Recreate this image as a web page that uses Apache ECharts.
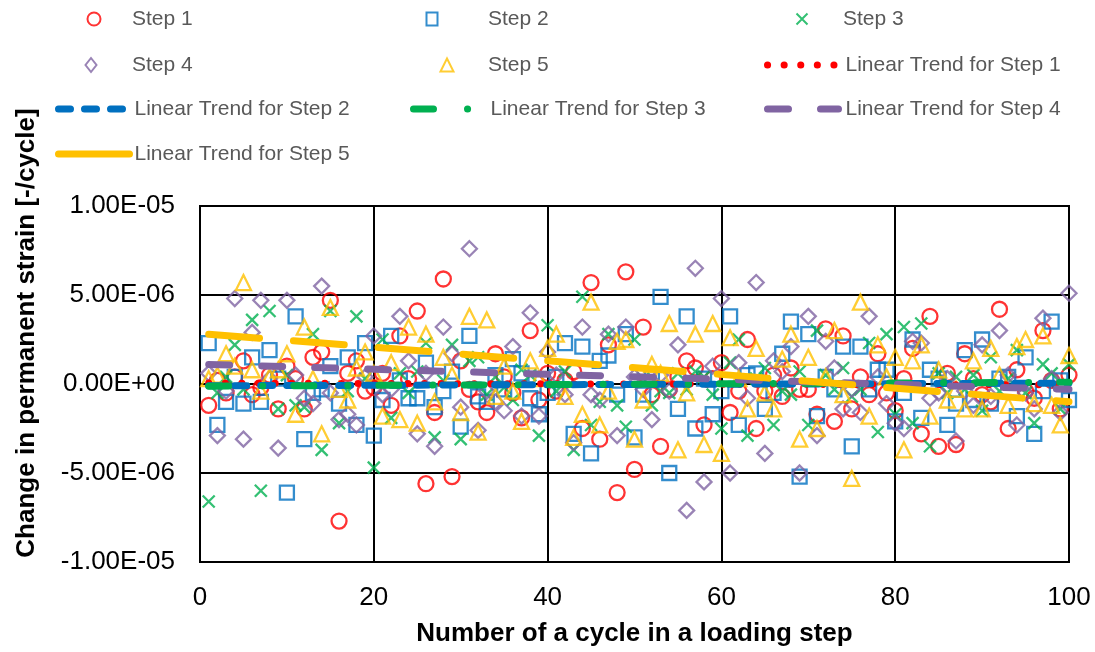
<!DOCTYPE html>
<html>
<head>
<meta charset="utf-8">
<script src="https://cdn.jsdelivr.net/npm/echarts@6/dist/echarts.min.js"></script>
<style>
  html, body { margin: 0; padding: 0; background: #fff; }
  #chart { width: 1095px; height: 652px; }
</style>
</head>
<body>
<div id="chart"></div>
<script>
// Cycle numbers 1..100 within each loading step
const cycles = Array.from({ length: 100 }, (_, i) => i + 1);

// Change in permanent strain per cycle, in units of 1E-06
const step1 = [
  -1.2, 0.2, -0.5, 0.4, 1.3, -0.6, -0.2, 0.5, -1.4, 1.0,
  0.3, -1.4, 1.5, 1.8, 4.7, -7.7, 0.6, 1.3, -0.4, -0.2,
  0.6, -1.2, 2.7, 0.3, 4.1, -5.6, -1.6, 5.9, -5.2, 1.3,
  -0.3, -1.0, -1.6, 1.7, 0.4, -0.5, -1.9, 3.0, -0.9, 0.6,
  -0.4, 0.2, 0.7, -2.5, 5.7, -3.1, 2.2, -6.1, 6.3, -4.8,
  3.2, -0.6, -3.5, -0.3, 0.4, 1.3, 0.9, -2.3, 0.3, 1.2,
  -1.6, -0.4, 2.5, -2.5, -0.4, 0.5, -0.7, 0.9, -0.3, -0.3,
  -1.7, 3.1, -2.1, 2.7, -1.4, 0.4, -0.6, 1.7, -0.5, -1.5,
  0.3, 2.0, -2.8, 3.8, -3.5, 0.6, -3.4, 1.7, 0.3, -0.6,
  -1.0, 4.2, -2.5, 0.8, -0.4, -0.8, 3.0, 0.2, -1.4, 0.5
];
const step2 = [
  2.3, -2.3, -1.0, 0.4, -1.1, 1.5, -1.0, 1.9, 0.3, -6.1,
  3.8, -3.1, -0.5, -0.3, 1.0, -1.1, 1.5, -2.3, 2.3, -2.9,
  -0.9, 2.7, 0.2, -0.8, -0.8, 1.2, -1.3, -0.4, 0.7, -2.4,
  2.7, -0.7, -1.0, 0.5, -0.3, 1.4, 0.6, -0.8, -1.7, -0.5,
  0.4, 2.3, -2.8, 2.1, -3.9, 1.3, 1.6, -0.6, 2.8, -3.0,
  -0.6, 0.5, 4.9, -5.0, -1.4, 3.8, -2.5, 0.3, -1.7, -0.4,
  3.8, -2.3, 0.5, 0.6, -1.4, -0.5, 1.7, 3.5, -5.2, 2.8,
  -1.8, 0.4, -0.3, 2.1, -3.5, 2.1, -0.3, 0.8, 0.8, -2.1,
  -0.5, 2.5, -1.9, 0.8, 0.3, -2.3, -1.1, 1.9, -0.9, 2.5,
  -1.1, 0.3, 0.4, -1.8, 1.5, -2.8, -0.4, 3.5, 0.2, -0.9
];
const step3 = [
  -6.6, -0.5, 0.4, 2.2, -0.3, 3.6, -6.0, 4.1, -1.4, 0.5,
  -1.2, -1.3, 2.8, -3.7, 4.1, -2.2, -0.4, 3.8, 0.3, -4.7,
  2.5, -1.9, 0.6, -0.5, 0.7, 2.3, -3.0, 0.2, 2.2, -3.1,
  1.3, 1.5, -0.6, 0.4, -0.2, -0.9, 0.8, 0.5, -2.9, 3.3,
  -0.4, 0.7, -3.7, 4.9, -2.3, -1.0, 2.8, -1.2, -2.4, 2.5,
  0.3, -1.2, -0.4, -0.5, 0.6, -0.3, 0.7, 0.4, -0.6, -2.5,
  1.2, 2.5, -2.9, 0.3, 0.9, -2.3, -0.4, -0.6, 0.7, -2.3,
  3.0, 0.5, -0.3, 0.9, -0.7, -0.3, 2.3, -2.7, 2.8, -1.7,
  3.2, -2.2, 3.4, -3.5, 0.6, -0.5, 0.4, -0.3, 0.5, -1.5,
  1.5, -0.4, 0.3, 1.9, -0.5, -2.2, 1.1, 0.6, -1.4, 1.1
];
const step4 = [
  0.6, -2.9, -0.4, 4.8, -3.1, 2.9, 4.7, 0.3, -3.6, 4.7,
  0.5, -0.8, -1.1, 5.5, -0.5, -2.0, -1.7, -2.3, 0.4, 2.7,
  -0.6, -0.3, 3.8, 1.3, -2.8, 0.6, -3.5, 3.2, 1.7, -1.3,
  7.6, -2.6, -0.4, -1.0, -1.5, 2.1, -1.8, 4.0, -1.8, 1.8,
  0.5, -0.6, -3.3, 3.2, -0.6, -0.9, 2.8, -2.9, 3.2, 0.4,
  -0.3, -2.0, 0.5, -0.4, 2.2, -7.1, 6.5, -5.5, 1.0, 4.8,
  -5.0, 1.2, -0.8, 5.7, -3.9, 1.3, 0.7, 2.1, -5.0, 3.8,
  -2.9, 2.4, 0.9, -1.4, -0.3, -1.6, 3.8, 0.4, -1.1, -2.2,
  -2.5, 2.4, 2.3, -0.8, -0.5, 0.3, -3.2, -0.4, -1.2, 2.2,
  -0.7, 3.0, 0.5, -2.3, -0.5, -1.4, 3.7, 0.3, -1.6, 5.1
];
const step5 = [
  0.3, 0.5, 1.7, 1.0, 5.7, 0.8, -0.4, 0.4, 0.8, 1.7,
  -1.7, 3.2, 0.3, -2.8, 4.3, -0.3, -0.9, 0.9, 1.8, 0.6,
  -1.8, 1.2, -2.0, 3.2, -2.2, 2.8, -1.0, 1.5, 0.5, -1.6,
  3.8, -2.7, 3.6, -0.7, 1.0, -0.4, -2.1, 1.3, 0.3, 2.0,
  2.8, -0.7, -3.0, -1.7, 4.6, -2.3, -0.4, 2.4, 2.5, -3.1,
  -0.9, 1.1, 0.6, 3.4, -3.7, -0.5, 2.8, -3.4, 3.4, -3.9,
  2.6, 0.3, -1.4, 2.0, -0.5, -1.4, 1.4, 2.8, -3.1, 1.5,
  -2.5, 0.4, 3.0, -0.6, -5.3, 4.6, -1.8, 2.2, 0.4, 1.5,
  -3.7, 1.3, 2.2, -1.8, 0.8, -0.9, -0.3, -1.4, 1.3, -1.4,
  2.0, 0.5, -1.2, 2.1, 2.5, -1.1, 2.7, -1.2, -2.3, 1.6
];

// Linear trend of each step: value (1E-06) at the first and the last cycle
const trendStart = [0.05, -0.1, -0.12, 1.1, 2.8];
const trendEnd = [-0.05, 0.05, 0.1, -0.3, -1.0];

// Axis ticks
const yTicks = { min: -10, max: 10, step: 5 };
const xTicks = { min: 0, max: 100, step: 20 };

const stepNames = ['Step 1', 'Step 2', 'Step 3', 'Step 4', 'Step 5'];
const trendNames = stepNames.map(n => 'Linear Trend for ' + n);
const colors = ['#FF0000', '#0070C0', '#00B050', '#8064A2', '#FFC000'];
const symbols = ['circle', 'rect', 'path://M0,0L10,10M10,0L0,10', 'diamond', 'triangle'];
const symbolSizes = [15, 14, 12, 15, 15];
const trendDash = [
  [0.1, 16.5],
  [12, 14],
  [20, 34, 0.1, 31],
  [21, 32],
  [51, 34]
];

const FONT = "'Liberation Sans', Arial, sans-serif";

// scientific label, e.g. 5 -> "5.00E-06"
function sciLabel(v) {
  if (v === 0) return '0.00E+00';
  const e = Math.floor(Math.log10(Math.abs(v)));
  const m = v / Math.pow(10, e);
  const exp = e - 6;
  const s = exp < 0 ? '-' : '+';
  const a = Math.abs(exp);
  return m.toFixed(2) + 'E' + s + (a < 10 ? '0' + a : String(a));
}

const allSteps = [step1, step2, step3, step4, step5];

const series = [];
allSteps.forEach((vals, k) => {
  series.push({
    name: stepNames[k],
    type: 'scatter',
    symbol: symbols[k],
    symbolSize: symbolSizes[k],
    itemStyle: { color: 'rgba(0,0,0,0)', borderColor: colors[k], borderWidth: 2.3 },
    emphasis: { disabled: true },
    data: cycles.map((c, i) => [c, vals[i]])
  });
});
trendStart.forEach((s, k) => {
  series.push({
    name: trendNames[k],
    type: 'line',
    symbol: 'none',
    color: colors[k],
    lineStyle: { color: colors[k], width: 7, type: trendDash[k], cap: 'round' },
    emphasis: { disabled: true },
    data: [[cycles[0], s], [cycles[cycles.length - 1], trendEnd[k]]]
  });
});

// One legend entry per block: marker/line box at (left, cy), text starting at textX
const LINE_H = 22;
function legendEntry(item, left, cy, w, h, textX, extra) {
  return Object.assign({
    orient: 'vertical',
    left: left,
    top: cy - LINE_H / 2,
    padding: 0,
    itemWidth: w,
    itemHeight: h,
    selectedMode: false,
    textStyle: {
      fontFamily: FONT, fontSize: 21, color: '#595959', lineHeight: LINE_H,
      padding: [0, 0, 0, Math.max(0, textX - (left + w + 5))]
    },
    data: [item]
  }, extra || {});
}
function markerEntry(name, cx, cy, w, h, textX) {
  return legendEntry(name, cx - w / 2, cy, w, h, textX);
}
function trendEntry(name, left, w, cy, textX, lineType) {
  const item = { name: name, itemStyle: { opacity: 0 } };
  if (lineType) item.lineStyle = { type: lineType };
  return legendEntry(item, left, cy, w, 13, textX, { lineStyle: { width: 7 } });
}

const chart = echarts.init(document.getElementById('chart'), null, { renderer: 'canvas' });
chart.setOption({
  animation: false,
  backgroundColor: '#fff',
  legend: [
    markerEntry('Step 1', 93, 19, 13, 13, 131),
    markerEntry('Step 2', 431, 19, 11, 13, 487),
    markerEntry('Step 3', 801, 19, 11, 11, 842),
    markerEntry('Step 4', 90, 65, 11, 14, 131),
    markerEntry('Step 5', 446, 65, 13, 13, 487),
    trendEntry('Linear Trend for Step 1', 764, 70, 65, 842),
    trendEntry('Linear Trend for Step 2', 55, 71, 109, 131),
    trendEntry('Linear Trend for Step 3', 410, 71, 109, 487),
    trendEntry('Linear Trend for Step 4', 764, 71, 109, 842),
    trendEntry('Linear Trend for Step 5', 55, 71, 154, 131, 'solid')
  ],
  grid: {
    left: 200, right: 26, top: 206, bottom: 85,
    show: true, borderColor: '#000', borderWidth: 2
  },
  xAxis: {
    type: 'value',
    min: xTicks.min, max: xTicks.max, interval: xTicks.step,
    name: 'Number of a cycle in a loading step',
    nameLocation: 'middle',
    nameGap: 59,
    nameTextStyle: { fontFamily: FONT, fontSize: 26, fontWeight: 'bold', color: '#000' },
    axisLine: { show: true, onZero: false, lineStyle: { color: '#000', width: 2 } },
    axisTick: { show: false },
    axisLabel: { fontFamily: FONT, fontSize: 26, color: '#000', margin: 23 },
    splitLine: { show: true, lineStyle: { color: '#000', width: 2 } }
  },
  yAxis: {
    type: 'value',
    min: yTicks.min, max: yTicks.max, interval: yTicks.step,
    axisLine: { show: true, lineStyle: { color: '#000', width: 2 } },
    axisTick: { show: false },
    axisLabel: { fontFamily: FONT, fontSize: 26, color: '#000', margin: 25, formatter: sciLabel },
    splitLine: { show: true, lineStyle: { color: '#000', width: 2 } }
  },
  graphic: [{
    type: 'text',
    x: 27, y: 333,
    rotation: Math.PI / 2,
    style: {
      text: 'Change in permanent strain [-/cycle]',
      font: 'bold 26px ' + FONT,
      fill: '#000',
      textAlign: 'center',
      textVerticalAlign: 'middle'
    }
  }],
  series: series
});
</script>
</body>
</html>
